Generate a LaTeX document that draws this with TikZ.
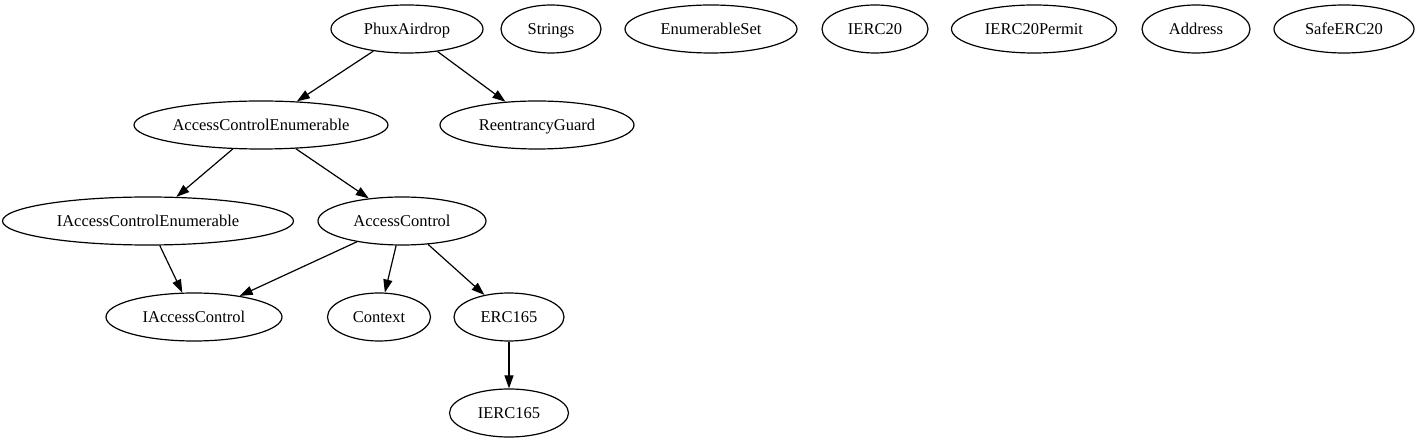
\documentclass[tikz,border=0pt]{standalone}
\usepackage{fontspec}
\setmainfont{Liberation Serif}
\usetikzlibrary{shapes.geometric}
\usetikzlibrary{arrows.meta}

\begin{document}
\begin{tikzpicture}[x=1pt,y=-1pt,
    cls/.style={draw,ellipse,inner sep=0pt,minimum height=48pt,line width=1.2pt,
        text height=11pt,text depth=0pt,font=\fontsize{16.5}{19}\selectfont},
    dep/.style={-{Triangle[length=13pt,width=9pt]},line width=1.2pt}]
    \useasboundingbox (0,0) rectangle (1419,443);
    % top row
    \node[cls,minimum width=152pt] (PA) at (407,29) {PhuxAirdrop};
    \node[cls,minimum width=100pt] (S) at (551,29) {Strings};
    \node[cls,minimum width=172pt] (ES) at (711,29) {EnumerableSet};
    \node[cls,minimum width=106pt] (E20) at (875,29) {IERC20};
    \node[cls,minimum width=165pt] (E20P) at (1034,29) {IERC20Permit};
    \node[cls,minimum width=108pt] (AD) at (1196,29) {Address};
    \node[cls,minimum width=140pt] (SE20) at (1344,29) {SafeERC20};
    % second row
    \node[cls,minimum width=254pt] (ACE) at (261,125) {AccessControlEnumerable};
    \node[cls,minimum width=194pt] (RG) at (537,125) {ReentrancyGuard};
    % third row
    \node[cls,minimum width=291pt] (IACE) at (148,221) {IAccessControlEnumerable};
    \node[cls,minimum width=168pt] (AC) at (402,221) {AccessControl};
    % fourth row
    \node[cls,minimum width=176pt] (IAC) at (194,317) {IAccessControl};
    \node[cls,minimum width=103pt] (CT) at (379,317) {Context};
    \node[cls,minimum width=110pt] (E165) at (509,317) {ERC165};
    \node[cls,minimum width=119pt] (IE165) at (509,413) {IERC165};

    \draw[dep] (PA) -- (ACE);
    \draw[dep] (PA) -- (RG);
    \draw[dep] (ACE) -- (IACE);
    \draw[dep] (ACE) -- (AC);
    \draw[dep] (IACE) -- (IAC);
    \draw[dep] (AC) -- (IAC);
    \draw[dep] (AC) -- (CT);
    \draw[dep] (AC) -- (E165);
    \draw[dep] (E165) -- (IE165);
\end{tikzpicture}
\end{document}
